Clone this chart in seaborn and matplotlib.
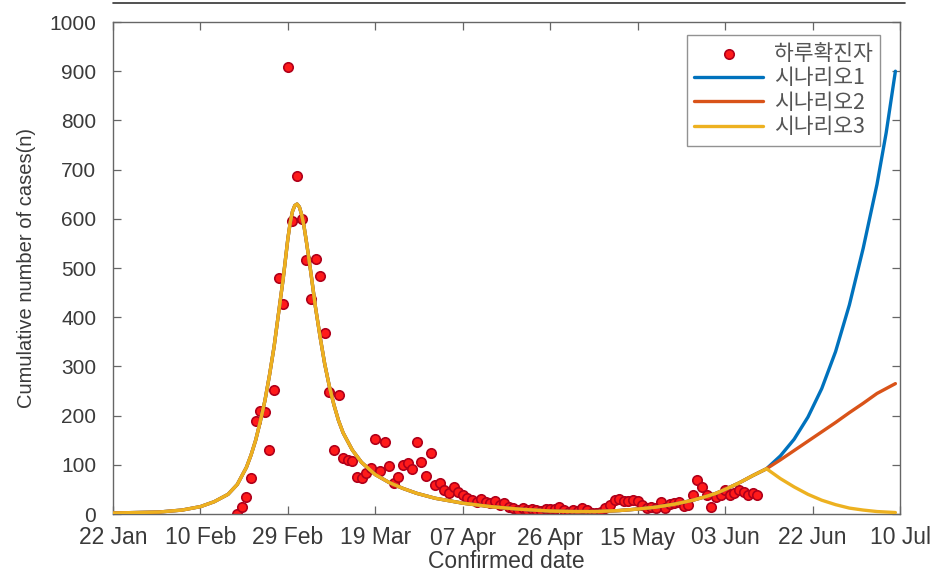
import numpy as np
import pandas as pd
import matplotlib
matplotlib.use("Agg")
import matplotlib.pyplot as plt
from matplotlib.lines import Line2D
import seaborn as sns

# ---------------- data ----------------
start_date = "2020-01-22"          # x-axis origin
first_case_date = "2020-02-18"     # first red dot

daily_cases = [
    1, 15, 34, 74, 190, 210, 207, 130, 253, 480, 427, 909,            # Feb 18-29
    595, 686, 600, 516, 438, 518, 483, 367, 248, 131, 242, 114, 110,  # Mar 1-13
    107, 76, 74, 84, 93, 152, 87, 147, 98, 64, 76, 100, 104, 91, 146, # Mar 14-28
    105, 78, 125,                                                      # Mar 29-31
    59, 63, 49, 42, 55, 45, 38, 32, 28, 25, 30, 25, 22, 27, 18,        # Apr 1-15
    22, 15, 12, 8, 13, 9, 11, 8, 6, 10, 10, 10, 14, 9, 4,              # Apr 16-30
    9, 6, 13, 8, 3, 2, 4, 12, 18, 28, 30, 27, 26, 29, 27, 19,          # May 1-16
    13, 15, 13, 25, 12, 20, 22, 25, 16, 19, 38, 70, 55, 39, 15,        # May 17-31
    35, 38, 49, 39, 42, 49, 45, 38, 42, 38,                            # Jun 1-10
]

# common fitted curve (days after 22 Jan, cases)
base_day = [0, 10, 15, 19, 22, 25, 27, 29, 30, 31, 32, 33, 34, 35, 36, 36.5,
            37, 37.5, 38, 38.5, 39, 39.5, 40, 40.5, 41, 41.5, 42, 42.5, 43, 43.5,
            44, 45, 46, 47, 48, 49, 50, 52, 54, 57, 60, 63, 66, 70, 76, 82, 88,
            95, 100, 105, 110, 114, 118, 122, 126, 129, 131, 133, 136, 139, 142]
base_val = [2, 4, 8, 15, 25, 40, 60, 95, 120, 150, 188, 230, 282, 340, 410, 445,
            480, 520, 560, 592, 615, 627, 630, 624, 608, 585, 555, 523, 490, 455,
            420, 360, 305, 260, 222, 190, 165, 130, 105, 80, 64, 52, 42, 32, 22, 15, 10,
            6, 5, 5, 7, 10, 14, 20, 28, 36, 42, 50, 63, 78, 92]

# scenario tails after the split point
tail_day = [145, 148, 151, 154, 157, 160, 163, 166, 168, 170]
scenario1 = [118, 152, 197, 255, 330, 425, 540, 670, 775, 900]
scenario2 = [110, 129, 148, 167, 186, 206, 225, 245, 255, 265]
scenario3 = [72, 55, 40, 28, 19, 12, 8, 5, 4, 3]

labels = ["하루확진자", "시나리오1", "시나리오2", "시나리오3"]
x_ticks = ["22 Jan", "10 Feb", "29 Feb", "19 Mar", "07 Apr",
           "26 Apr", "15 May", "03 Jun", "22 Jun", "10 Jul"]

# ---------------- frames ----------------
t0 = pd.Timestamp(start_date)
dots = pd.DataFrame({
    "date": pd.date_range(first_case_date, periods=len(daily_cases), freq="D"),
    "cases": daily_cases,
})

def scenario_frame(tail_vals):
    days = base_day + tail_day
    vals = base_val + tail_vals
    return pd.DataFrame({"date": [t0 + pd.Timedelta(days=d) for d in days],
                         "cases": vals})

sc_frames = [scenario_frame(s) for s in (scenario1, scenario2, scenario3)]

# ---------------- style ----------------
sns.set_theme(style="white")
plt.rcParams["font.family"] = ["Liberation Sans", "Noto Sans CJK KR", "DejaVu Sans"]
text_col = "#3a3a3a"

fig = plt.figure(figsize=(9.37, 5.72), dpi=100)
ax = fig.add_axes([113 / 937, 58 / 572, 787 / 937, 492 / 572])

sns.scatterplot(data=dots, x="date", y="cases", ax=ax, s=46, color="#ff1a1a",
                edgecolor="#b0001a", linewidth=1.2, label=labels[0], zorder=2)
colors = ["#0072BD", "#D95319", "#EDB120"]
for df, c, lab in zip(sc_frames, colors, labels[1:]):
    sns.lineplot(data=df, x="date", y="cases", ax=ax, color=c, linewidth=2.4,
                 label=lab, zorder=3, estimator=None, sort=True)

# axes
ax.set_xlim(t0, t0 + pd.Timedelta(days=170))
ax.set_ylim(0, 1000)
tick_dates = [t0 + pd.Timedelta(days=19 * i) for i in range(len(x_ticks))]
ax.set_xticks(tick_dates)
ax.set_xticklabels(x_ticks)
ax.set_yticks(np.arange(0, 1001, 100))
ax.tick_params(axis="both", direction="in", length=6, width=0.9, colors="#666666",
               labelcolor=text_col, top=True, right=True, bottom=True, left=True)
ax.tick_params(axis="x", labelsize=16.5, pad=9)
ax.tick_params(axis="y", labelsize=15, pad=12)
for sp in ax.spines.values():
    sp.set_visible(True)
    sp.set_color("#666666")
    sp.set_linewidth(1.0)

ax.set_xlabel("Confirmed date", fontsize=16.5, color=text_col, labelpad=0)
ax.set_ylabel("Cumulative number of cases(n)", fontsize=14.5, color=text_col, labelpad=10)

leg = ax.legend(loc="upper right", bbox_to_anchor=(0.9746, 0.9736), borderaxespad=0,
                frameon=True, handlelength=3.2, handletextpad=0.5,
                labelspacing=0.12, borderpad=0.35, fancybox=False,
                prop={"family": ["Noto Sans CJK KR", "DejaVu Sans"], "size": 15.5})
leg.get_frame().set_edgecolor("#777777")
leg.get_frame().set_linewidth(1.0)
for t in leg.get_texts():
    t.set_color("#555555")

# thin rule across the top of the image
fig.add_artist(Line2D([113 / 937, 905 / 937], [1 - 3 / 572, 1 - 3 / 572],
                      color="#333333", linewidth=1.2, transform=fig.transFigure))

fig.savefig("out.png", dpi=100, facecolor="white")
